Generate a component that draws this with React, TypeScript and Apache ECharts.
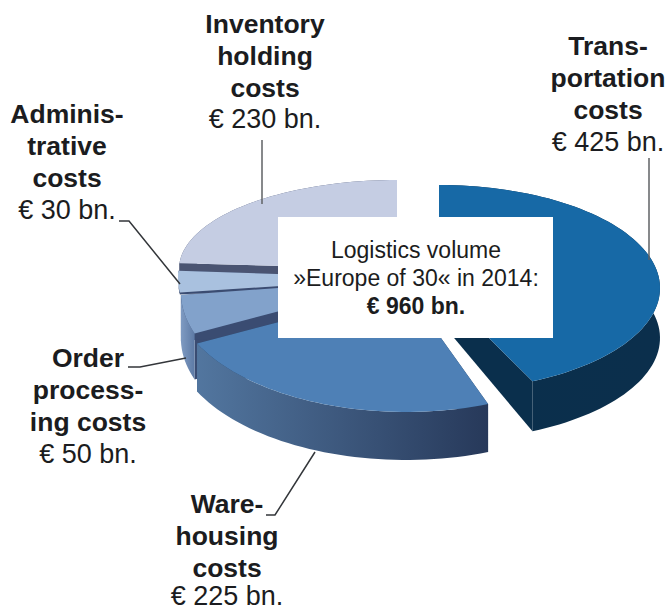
import React, { useEffect, useRef } from "react";
import * as echarts from "echarts";

const categories = ["Transportation costs", "Warehousing costs", "Order processing costs", "Administrative costs", "Inventory holding costs"];
const values = [425, 225, 50, 30, 230];
const paintOrder = [4, 3, 2, 1, 0];

const headings = [
  ["Trans-", "portation", "costs"],
  ["Ware-", "housing", "costs"],
  ["Order", "process-", "ing costs"],
  ["Adminis-", "trative", "costs"],
  ["Inventory", "holding", "costs"],
];
const amounts = ["€ 425 bn.", "€ 225 bn.", "€ 50 bn.", "€ 30 bn.", "€ 230 bn."];
const centreTitle = ["Logistics volume", "»Europe of 30« in 2014:"];
const centreTotal = "€ 960 bn.";

// Layout of each slice (the drawing's slices are individually offset and skewed)
const sliceLayout = [
  { cx: 439, cy: 288, a: 221, b: 103, depth: 50, apexDepth: 32, shear: 0, endTrim: 4.4, face: "#1769a6", radial: "#0a2f4c", wall: ["#0a2f4c", "#0b2f4c"] },
  { cx: 406, cy: 289, a: 233, b: 123, depth: 48, apexDepth: 48, shear: 0, endTrim: 0, face: "#4e80b6", radial: "#2b4263", wall: ["#52769f", "#27395a"] },
  { cx: 402, cy: 279, a: 220, b: 123, depth: 46, apexDepth: 46, shear: 0.185, endTrim: 0, face: "#82a2cb", radial: "#3a4c72", wall: ["#7f9bc2", "#5d7aa5"] },
  { cx: 400, cy: 278, a: 222, b: 112, depth: 2, apexDepth: 2, shear: 0, endTrim: 0, face: "#a9c1df", radial: "#3a4c72", wall: ["#3a4c72", "#3a4c72"] },
  { cx: 397, cy: 269, a: 218, b: 89, depth: 30, apexDepth: 30, shear: 0, endTrim: 0, face: "#c5cde3", radial: "#4a5472", wall: ["#4a5472", "#4a5472"] },
];
const labelLayout = [
  { x: 608, y: [55, 87, 119, 151] },
  { x: 227, y: [513, 545, 577, 605] },
  { x: 88, y: [367, 399, 431, 463] },
  { x: 67, y: [123, 155, 187, 219] },
  { x: 265, y: [33, 65, 97, 128] },
];
const leaders = [
  { color: "#5f6265", pts: [[649, 158], [649, 260]] },
  { color: "#33363a", pts: [[266, 515], [275, 515], [315, 452]] },
  { color: "#33363a", pts: [[128, 367], [140, 367], [186, 358]] },
  { color: "#33363a", pts: [[119, 221], [129, 221], [180, 284]] },
  { color: "#5f6265", pts: [[262, 140], [262, 204]] },
];

const total = values.reduce((s, v) => s + v, 0);
const starts = values.map((_, i) => values.slice(0, i).reduce((s, v) => s + v, 0));
const FONT = '"Liberation Sans", Arial, sans-serif';
const TEXT = "#1b1c20";

function arc(l: any, from: number, to: number, dy = 0) {
  const n = Math.max(6, Math.ceil(Math.abs(to - from) / 2));
  const out: number[][] = [];
  for (let k = 0; k <= n; k++) {
    const t = ((from + ((to - from) * k) / n) * Math.PI) / 180;
    const oy = -l.b * Math.cos(t);
    out.push([l.cx + l.a * Math.sin(t) - l.shear * oy, l.cy + oy + dy]);
  }
  return out;
}

function renderSlice(_params: any, api: any) {
  const i = api.value(0);
  const value = api.value(1);
  const start = api.value(2);
  const l = sliceLayout[i];
  const from = (start / total) * 360;
  const to = ((start + value) / total) * 360 - l.endTrim;
  const rim = arc(l, from, to);
  const rimLow = arc(l, from, to, l.depth).reverse();
  const last = rim[rim.length - 1];
  const first = rim[0];
  const wallFill = new echarts.graphic.LinearGradient(0, 0, 1, 0, [
    { offset: 0, color: l.wall[0] },
    { offset: 1, color: l.wall[1] },
  ]);
  return {
    type: "group",
    children: [
      {
        type: "polygon",
        shape: { points: [[l.cx, l.cy], first, [first[0], first[1] + l.depth], [l.cx, l.cy + l.apexDepth]] },
        style: { fill: l.radial },
      },
      {
        type: "polygon",
        shape: { points: [[l.cx, l.cy], last, [last[0], last[1] + l.depth], [l.cx, l.cy + l.apexDepth]] },
        style: { fill: l.radial },
      },
      { type: "polygon", shape: { points: [...rim, ...rimLow] }, style: { fill: wallFill } },
      { type: "polygon", shape: { points: [[l.cx, l.cy], ...rim] }, style: { fill: l.face } },
    ],
  };
}

function textEl(text: string, x: number, baseline: number, size: number, bold: boolean) {
  return {
    type: "text",
    z: 20,
    x,
    y: baseline - size * 0.34,
    style: {
      text,
      fill: TEXT,
      font: `${bold ? "bold " : ""}${size}px ${FONT}`,
      textAlign: "center",
      textVerticalAlign: "middle",
    },
  };
}

export default function App() {
  const ref = useRef<HTMLDivElement>(null);
  useEffect(() => {
    const chart = echarts.init(ref.current!, null, { renderer: "svg" });
    const labelEls: any[] = [];
    headings.forEach((lines, i) => {
      const l = labelLayout[i];
      lines.forEach((t, k) => labelEls.push(textEl(t, l.x, l.y[k], 26.5, true)));
      labelEls.push(textEl(amounts[i], l.x, l.y[3], 27, false));
    });
    chart.setOption({
      animation: false,
      backgroundColor: "#ffffff",
      series: [
        {
          type: "custom",
          coordinateSystem: "none",
          renderItem: renderSlice,
          silent: true,
          data: paintOrder.map((i) => ({ name: categories[i], value: [i, values[i], starts[i]] })),
        },
      ],
      graphic: [
        { type: "rect", z: 10, shape: { x: 278, y: 217, width: 275, height: 121 }, style: { fill: "#ffffff" } },
        ...leaders.map((d) => ({
          type: "polyline",
          z: 11,
          shape: { points: d.pts },
          style: { stroke: d.color, lineWidth: 1.5, fill: "none" },
        })),
        textEl(centreTitle[0], 416, 258, 23, false),
        textEl(centreTitle[1], 416, 286, 23, false),
        textEl(centreTotal, 416, 314, 23, true),
        ...labelEls,
      ],
    });
    return () => chart.dispose();
  }, []);
  return <div ref={ref} style={{ position: "absolute", left: 0, top: 0, width: 668, height: 611 }} />;
}
